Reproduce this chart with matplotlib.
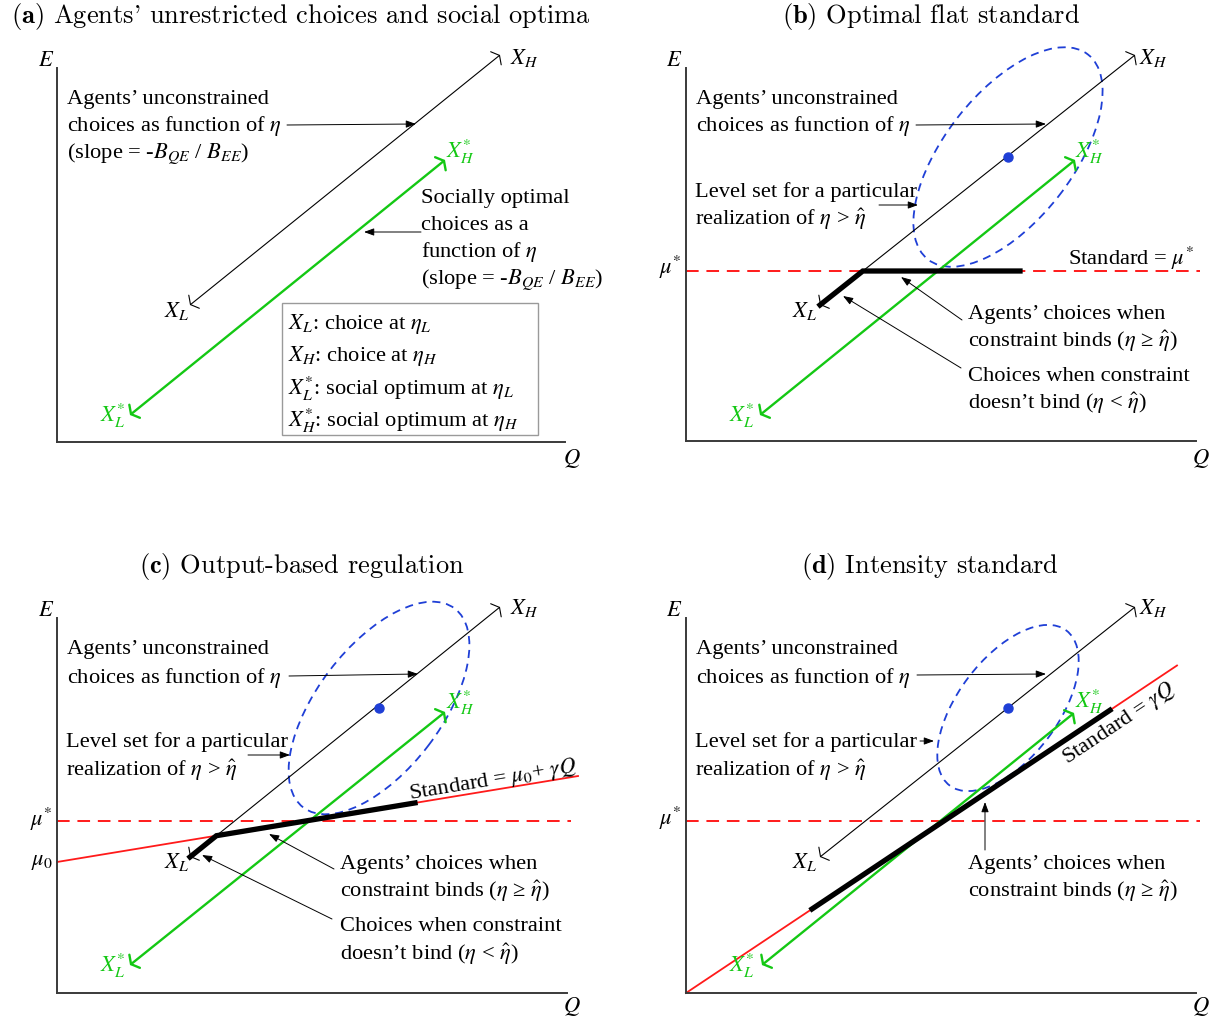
import numpy as np
import matplotlib
matplotlib.use("Agg")
import matplotlib.pyplot as plt
from matplotlib.patches import Ellipse, Rectangle

W, H = 1217, 1024
plt.rcParams['font.family'] = ['Liberation Serif', 'DejaVu Serif']
plt.rcParams['mathtext.fontset'] = 'stix'

# ---------------- data (panel-local Q, E units) ----------------
# endpoints [X_L, X_H] of agents' unconstrained choices, [X_L*, X_H*] of social optima
unc_a = np.array([[133, 137], [443, 387]])
opt_a = np.array([[73, 27], [388, 282]])

unc_b = np.array([[134, 136], [449, 386]])
opt_b = np.array([[74, 26], [389, 281]])
mu_star_b = 170
bind_end_b = 334
level_center_b = [322, 284]
level_axes_b = [260, 128]
level_angle_b = 52

unc_c = np.array([[133, 136], [443, 386]])
opt_c = np.array([[73, 28], [388, 281]])
mu_star_c = 172
mu0_c = 131
gamma_c = 0.165
std_qmax_c = 521
bind_end_c = 358
level_center_c = [322, 285]
level_axes_c = [250, 124]
level_angle_c = 52.7

unc_d = np.array([[134, 136], [449, 386]])
opt_d = np.array([[76, 28], [388, 280]])
mu_star_d = 172
gamma_d = 0.667
std_qmax_d = 491
bind_d = [126, 424]
level_center_d = [322, 285]
level_axes_d = [194, 100]
level_angle_d = 53

dash_qmax = 514

titles = [r"$\mathbf{(a)}$ Agents' unrestricted choices and social optima",
          r"$\mathbf{(b)}$ Optimal flat standard",
          r"$\mathbf{(c)}$ Output-based regulation",
          r"$\mathbf{(d)}$ Intensity standard"]

APOS = "\u2019"
BINDS = r"constraint binds ($\eta$ " + "\u2265" + r" $\hat{\eta}$)"
NOBIND = "doesn" + APOS + r"t bind ($\eta$ < $\hat{\eta}$)"

# ---------------- styles ----------------
GREEN = '#14c814'
RED = '#ff1a1a'
BLUE = '#1f3fd6'
FS = 16.2

fig = plt.figure(figsize=(W / 100, H / 100), dpi=100)

# frames: (x0, y0, width, height) in pixels (origin of axes at x0,y0 from top-left)
frames = {'a': (57, 442, 508, 374), 'b': (686, 441, 510, 373),
          'c': (57, 993, 510, 375), 'd': (686, 993, 510, 375)}


def make_ax(key):
    x0, y0, w, h = frames[key]
    ax = fig.add_axes([x0 / W, (H - y0) / H, w / W, h / H])
    ax.set_xlim(0, w)
    ax.set_ylim(0, h)
    for s in ['top', 'right']:
        ax.spines[s].set_visible(False)
    for s in ['left', 'bottom']:
        ax.spines[s].set_color('#3a3a3a')
        ax.spines[s].set_linewidth(1.4)
    ax.set_xticks([])
    ax.set_yticks([])
    ax.patch.set_alpha(0)
    return ax


def txt(ax, key, px, py, s, ha='left', va='center', color='black', fs=FS, dy=0, **kw):
    x0, y0, w, h = frames[key]
    return ax.text(px - x0, y0 - py - dy, s, ha=ha, va=va, color=color, fontsize=fs,
                   clip_on=False, **kw)


def body(ax, key, px, py, s, **kw):
    return txt(ax, key, px, py, s, dy=2.5, **kw)


def pointer(ax, key, p_from, p_to):
    x0, y0, w, h = frames[key]
    ax.annotate('', xy=(p_to[0] - x0, y0 - p_to[1]),
                xytext=(p_from[0] - x0, y0 - p_from[1]),
                arrowprops=dict(arrowstyle='-|>,head_length=0.6,head_width=0.22',
                                lw=0.7, color='black', shrinkA=0, shrinkB=0,
                                mutation_scale=10),
                annotation_clip=False)


def range_line(ax, pts, color, lw):
    ax.annotate('', xy=tuple(pts[1]), xytext=tuple(pts[0]),
                arrowprops=dict(arrowstyle='<->,head_length=0.3,head_width=0.55',
                                lw=lw, color=color, shrinkA=0, shrinkB=0,
                                mutation_scale=11),
                annotation_clip=False)


def level_set(ax, c, axes_, ang):
    e = Ellipse(c, axes_[0], axes_[1], angle=ang, fill=False, edgecolor=BLUE,
                lw=1.3, ls=(0, (4.5, 3.2)), clip_on=False, zorder=3)
    ax.add_patch(e)
    ax.plot([c[0]], [c[1]], 'o', color=BLUE, ms=6.5, zorder=5, clip_on=False)


def axis_labels(ax, key, e_pos, q_pos):
    txt(ax, key, *e_pos, r'$E$', ha='center')
    txt(ax, key, *q_pos, r'$Q$', ha='center')


def endpoint_labels(ax, key, pos):
    txt(ax, key, *pos[0], r'$X_L$', ha='center')
    txt(ax, key, *pos[1], r'$X_H$', ha='center')
    txt(ax, key, *pos[2], r'$X_L^{*}$', ha='center', color=GREEN)
    txt(ax, key, *pos[3], r'$X_H^{*}$', ha='center', color=GREEN)


def red_dash(ax, mu):
    ax.plot([0, dash_qmax], [mu, mu], color=RED, lw=1.4,
            ls=(0, (6.5, 4)), clip_on=False, zorder=1)


# ---------------- titles ----------------
title_pos = [(301, 16.5), (931, 16.5), (302, 566), (930, 566)]
for t, (cx, cy) in zip(titles, title_pos):
    fig.text(cx / W, 1 - cy / H, t, ha='center', va='center', fontsize=19,
             family='cmr10', math_fontfamily='cm')

# ---------------- panel (a) ----------------
ax = make_ax('a')
k = 'a'
range_line(ax, unc_a, 'black', 0.8)
range_line(ax, opt_a, GREEN, 1.7)
axis_labels(ax, k, (46, 62), (572, 458))
endpoint_labels(ax, k, [(177, 311), (524, 58), (113, 416), (460, 152)])
body(ax, k, 67, 97, "Agents" + APOS + " unconstrained")
body(ax, k, 67, 124, r"choices as function of $\eta$")
body(ax, k, 67, 152, r"(slope = -$B_{QE}$ / $B_{EE}$)")
pointer(ax, k, (287, 125), (416, 124))
body(ax, k, 421, 196, "Socially optimal")
body(ax, k, 421, 223, "choices as a")
body(ax, k, 421, 250, r"function of $\eta$")
body(ax, k, 421, 278, r"(slope = -$B_{QE}$ / $B_{EE}$)")
pointer(ax, k, (421, 232), (364, 232))
x0, y0, _, _ = frames[k]
ax.add_patch(Rectangle((282 - x0, y0 - 435), 256, 132, fill=False,
                       edgecolor='#9a9a9a', lw=1.0, clip_on=False))
body(ax, k, 288, 322, r"$X_L$: choice at $\eta_L$")
body(ax, k, 288, 354, r"$X_H$: choice at $\eta_H$")
body(ax, k, 288, 386, r"$X_L^{*}$: social optimum at $\eta_L$")
body(ax, k, 288, 418, r"$X_H^{*}$: social optimum at $\eta_H$")

# ---------------- panel (b) ----------------
ax = make_ax('b')
k = 'b'
red_dash(ax, mu_star_b)
level_set(ax, level_center_b, level_axes_b, level_angle_b)
range_line(ax, unc_b, 'black', 0.8)
range_line(ax, opt_b, GREEN, 1.7)
kink_q_b = np.interp(mu_star_b, unc_b[:, 1], unc_b[:, 0])
ax.plot([unc_b[0, 0], kink_q_b, bind_end_b], [unc_b[0, 1], mu_star_b, mu_star_b],
        color='black', lw=3.8, solid_joinstyle='miter', zorder=4, clip_on=False)
axis_labels(ax, k, (674, 62), (1201, 458))
endpoint_labels(ax, k, [(805, 311), (1153, 58), (742, 416), (1089, 152)])
txt(ax, k, 670, 267, r"$\mu^{*}$", ha='center')
body(ax, k, 696, 97, "Agents" + APOS + " unconstrained")
body(ax, k, 696, 124, r"choices as function of $\eta$")
pointer(ax, k, (916, 125), (1046, 124))
body(ax, k, 695, 190, "Level set for a particular")
body(ax, k, 695, 217, r"realization of $\eta$ > $\hat{\eta}$")
pointer(ax, k, (879, 205), (918, 205))
body(ax, k, 1068, 256, r"Standard = $\mu^{*}$")
body(ax, k, 968, 312, "Agents" + APOS + " choices when")
body(ax, k, 968, 339, BINDS)
pointer(ax, k, (962, 320), (901, 277))
body(ax, k, 968, 374, "Choices when constraint")
body(ax, k, 968, 401, NOBIND)
pointer(ax, k, (961, 368), (843, 296))

# ---------------- panel (c) ----------------
ax = make_ax('c')
k = 'c'
red_dash(ax, mu_star_c)
qs = np.array([0, std_qmax_c])
ax.plot(qs, mu0_c + gamma_c * qs, color=RED, lw=1.3, clip_on=False, zorder=1)
level_set(ax, level_center_c, level_axes_c, level_angle_c)
range_line(ax, unc_c, 'black', 0.8)
range_line(ax, opt_c, GREEN, 1.7)
slope_c = (unc_c[1, 1] - unc_c[0, 1]) / (unc_c[1, 0] - unc_c[0, 0])
icpt_c = unc_c[0, 1] - slope_c * unc_c[0, 0]
kink_q_c = (mu0_c - icpt_c) / (slope_c - gamma_c)
ax.plot([unc_c[0, 0], kink_q_c, bind_end_c],
        [unc_c[0, 1], mu0_c + gamma_c * kink_q_c, mu0_c + gamma_c * bind_end_c],
        color='black', lw=3.8, solid_joinstyle='miter', zorder=4, clip_on=False)
axis_labels(ax, k, (46, 612), (572, 1007))
endpoint_labels(ax, k, [(177, 862), (524, 608), (113, 966), (460, 703)])
txt(ax, k, 41, 819, r"$\mu^{*}$", ha='center')
txt(ax, k, 42, 862, r"$\mu_0$", ha='center')
body(ax, k, 67, 647, "Agents" + APOS + " unconstrained")
body(ax, k, 67, 675, r"choices as function of $\eta$")
pointer(ax, k, (289, 676), (418, 674))
body(ax, k, 66, 740, "Level set for a particular")
body(ax, k, 66, 768, r"realization of $\eta$ > $\hat{\eta}$")
pointer(ax, k, (248, 755), (290, 755))
ang_c = np.degrees(np.arctan(gamma_c))
txt(ax, k, 493, 780, r"Standard = $\mu_0$+ $\gamma Q$", ha='center', va='center',
    rotation=ang_c, rotation_mode='anchor')
body(ax, k, 340, 862, "Agents" + APOS + " choices when")
body(ax, k, 340, 889, BINDS)
pointer(ax, k, (334, 869), (269, 834))
body(ax, k, 340, 924, "Choices when constraint")
body(ax, k, 340, 952, NOBIND)
pointer(ax, k, (332, 919), (202, 855))

# ---------------- panel (d) ----------------
ax = make_ax('d')
k = 'd'
red_dash(ax, mu_star_d)
qs = np.array([0, std_qmax_d])
ax.plot(qs, gamma_d * qs, color=RED, lw=1.3, clip_on=False, zorder=1)
level_set(ax, level_center_d, level_axes_d, level_angle_d)
range_line(ax, unc_d, 'black', 0.8)
range_line(ax, opt_d, GREEN, 1.7)
qb = np.array(bind_d)
ax.plot(qb, gamma_d * qb, color='black', lw=3.8, zorder=4, clip_on=False)
axis_labels(ax, k, (674, 612), (1201, 1007))
endpoint_labels(ax, k, [(805, 862), (1153, 608), (742, 966), (1089, 702)])
txt(ax, k, 670, 818, r"$\mu^{*}$", ha='center')
body(ax, k, 696, 647, "Agents" + APOS + " unconstrained")
body(ax, k, 696, 675, r"choices as function of $\eta$")
pointer(ax, k, (917, 675), (1046, 674))
body(ax, k, 695, 740, "Level set for a particular")
body(ax, k, 695, 768, r"realization of $\eta$ > $\hat{\eta}$")
pointer(ax, k, (920, 741), (934, 741))
ang_d = np.degrees(np.arctan(gamma_d))
txt(ax, k, 1119, 724, r"Standard = $\gamma Q$", ha='center', va='center',
    rotation=ang_d, rotation_mode='anchor')
body(ax, k, 968, 862, "Agents" + APOS + " choices when")
body(ax, k, 968, 889, BINDS)
pointer(ax, k, (985, 850), (985, 802))

fig.savefig('out.png', dpi=100)
